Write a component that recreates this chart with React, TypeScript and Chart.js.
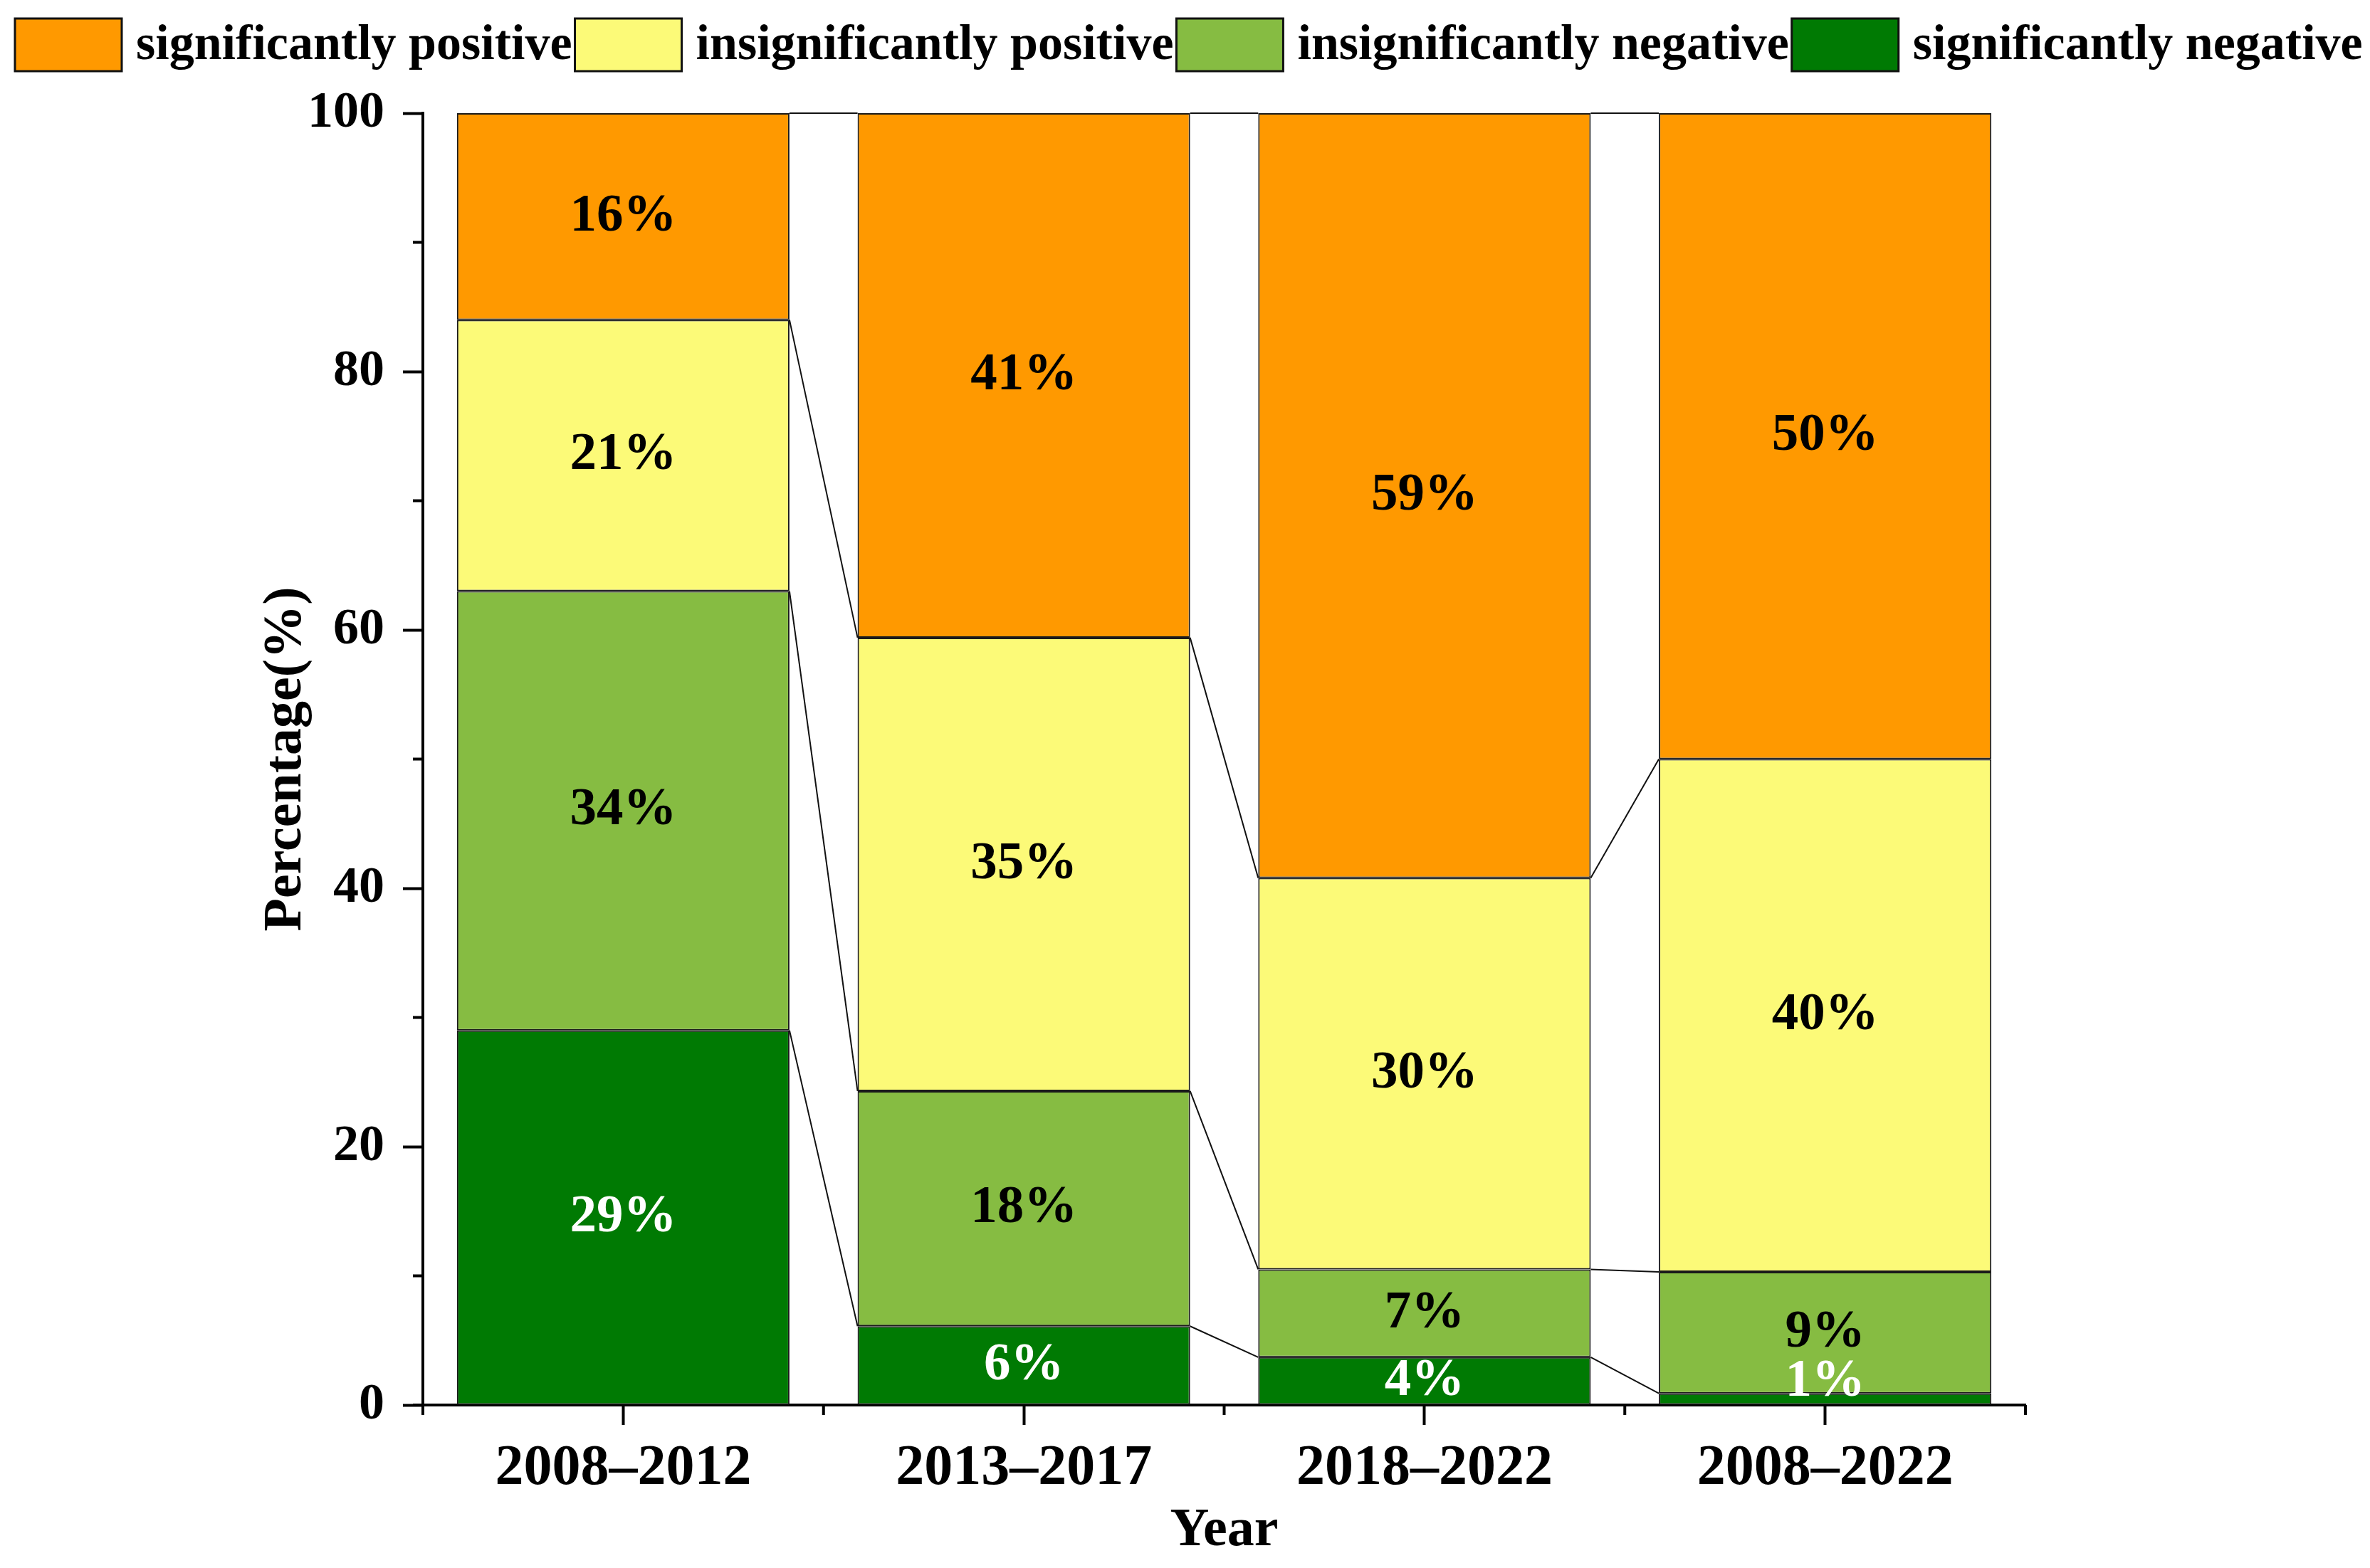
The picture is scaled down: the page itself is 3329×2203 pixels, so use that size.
import React, { useEffect, useRef } from 'react';
import { Chart, registerables } from 'chart.js';

Chart.register(...registerables);

// ---- data ----
const categories = ['2008–2012', '2013–2017', '2018–2022', '2008–2022'];
const seriesNames = [
  'significantly negative',
  'insignificantly negative',
  'insignificantly positive',
  'significantly positive',
];
const sigNegative = [29, 6.1, 3.7, 0.9];
const insigNegative = [34, 18.2, 6.8, 9.4];
const insigPositive = [21, 35.1, 30.3, 39.7];
const sigPositive = [16, 40.6, 59.2, 50];
const seriesColors = ['#007A03', '#86BC42', '#FCFA78', '#FF9900'];
const labelColors = ['#FFFFFF', '#000000', '#000000', '#000000'];
const yMajorTicks = [0, 20, 40, 60, 80, 100];
const yMinorTicks = [10, 30, 50, 70, 90];

const FONT = '"Liberation Serif", "Times New Roman", serif';

const connectorPlugin = {
  id: 'connectors',
  afterDatasetsDraw(chart: any) {
    const ctx = chart.ctx;
    ctx.save();
    ctx.strokeStyle = '#111';
    ctx.lineWidth = 2;
    chart.data.datasets.forEach((_: any, d: number) => {
      const els = chart.getDatasetMeta(d).data;
      for (let i = 0; i < els.length - 1; i++) {
        const a = els[i].getProps(['x', 'y', 'width'], true);
        const b = els[i + 1].getProps(['x', 'y', 'width'], true);
        ctx.beginPath();
        ctx.moveTo(a.x + a.width / 2, a.y);
        ctx.lineTo(b.x - b.width / 2, b.y);
        ctx.stroke();
      }
    });
    ctx.restore();
  },
};

const labelPlugin = {
  id: 'segLabels',
  afterDatasetsDraw(chart: any) {
    const ctx = chart.ctx;
    const size = 75;
    ctx.save();
    ctx.font = `bold ${size}px ${FONT}`;
    ctx.textAlign = 'center';
    ctx.textBaseline = 'middle';
    chart.data.datasets.forEach((ds: any, d: number) => {
      const els = chart.getDatasetMeta(d).data;
      els.forEach((el: any, i: number) => {
        const p = el.getProps(['x', 'y', 'base'], true);
        const center = (p.y + p.base) / 2;
        const y = Math.min(center, p.base - size * 0.43);
        ctx.fillStyle = labelColors[d];
        ctx.fillText(`${Math.round(ds.data[i])}%`, p.x, y);
      });
    });
    ctx.restore();
  },
};

const minorTickPlugin = {
  id: 'minorTicks',
  afterDraw(chart: any) {
    const ctx = chart.ctx;
    const xs = chart.scales.x;
    const ys = chart.scales.y;
    ctx.save();
    ctx.strokeStyle = '#000';
    ctx.lineWidth = 4;
    yMinorTicks.forEach((v) => {
      const py = ys.getPixelForValue(v);
      ctx.beginPath();
      ctx.moveTo(ys.right, py);
      ctx.lineTo(ys.right - 14, py);
      ctx.stroke();
    });
    for (let i = 0; i <= categories.length; i++) {
      const px = xs.getPixelForValue(i - 0.5);
      ctx.beginPath();
      ctx.moveTo(px, xs.top);
      ctx.lineTo(px, xs.top + 14);
      ctx.stroke();
    }
    // small overhang of x axis to the left of the y axis
    ctx.beginPath();
    ctx.moveTo(xs.left - 14, xs.top);
    ctx.lineTo(xs.left, xs.top);
    ctx.stroke();
    ctx.restore();
  },
};

const legendPlugin = {
  id: 'customLegend',
  afterDraw(chart: any) {
    const ctx = chart.ctx;
    ctx.save();
    ctx.font = `bold 70px ${FONT}`;
    ctx.textBaseline = 'middle';
    ctx.textAlign = 'left';
    const top = 26;
    const bw = 150;
    const bh = 74;
    let x = 21;
    const ds = chart.data.datasets;
    for (let k = ds.length - 1; k >= 0; k--) {
      ctx.fillStyle = ds[k].backgroundColor;
      ctx.fillRect(x, top, bw, bh);
      ctx.strokeStyle = '#111';
      ctx.lineWidth = 3;
      ctx.strokeRect(x, top, bw, bh);
      x += bw + 20;
      ctx.fillStyle = '#000';
      ctx.fillText(ds[k].label, x, top + bh / 2 + 2);
      x += ctx.measureText(ds[k].label).width + 4;
    }
    ctx.restore();
  },
};

const bgPlugin = {
  id: 'bg',
  beforeDraw(chart: any) {
    const ctx = chart.ctx;
    ctx.save();
    ctx.fillStyle = '#fff';
    ctx.fillRect(0, 0, chart.width, chart.height);
    ctx.restore();
  },
};

export default function App() {
  const ref = useRef<HTMLCanvasElement | null>(null);

  useEffect(() => {
    if (!ref.current) return;
    const values = [sigNegative, insigNegative, insigPositive, sigPositive];
    const chart = new Chart(ref.current, {
      type: 'bar',
      data: {
        labels: categories,
        datasets: values.map((v, d) => ({
          label: seriesNames[d],
          data: v,
          backgroundColor: seriesColors[d],
          borderColor: '#1a1a1a',
          borderWidth: 2,
          borderSkipped: false,
          barPercentage: 0.83,
          categoryPercentage: 1,
        })),
      },
      options: {
        animation: false,
        responsive: false,
        devicePixelRatio: 1,
        events: [],
        layout: { padding: { left: 0, right: 484, top: 159, bottom: 0 } },
        plugins: {
          legend: { display: false },
          tooltip: { enabled: false },
        },
        scales: {
          x: {
            stacked: true,
            offset: true,
            grid: {
              offset: false,
              drawOnChartArea: false,
              drawTicks: true,
              tickLength: 28,
              tickWidth: 4,
              tickColor: '#000',
              color: '#000',
            },
            border: { display: true, color: '#000', width: 4 },
            ticks: {
              color: '#000',
              padding: 14,
              font: { family: FONT, size: 80, weight: 'bold' },
              maxRotation: 0,
              autoSkip: false,
            },
            title: {
              display: true,
              text: 'Year',
              color: '#000',
              font: { family: FONT, size: 76, weight: 'bold' },
              padding: { top: 0, bottom: 6 },
            },
            afterFit(scale: any) {
              scale.height = 229;
            },
          },
          y: {
            stacked: true,
            min: 0,
            max: 100,
            afterBuildTicks(scale: any) {
              scale.ticks = yMajorTicks.map((v) => ({ value: v }));
            },
            grid: {
              drawOnChartArea: false,
              drawTicks: true,
              tickLength: 28,
              tickWidth: 4,
              tickColor: '#000',
              color: '#000',
            },
            border: { display: true, color: '#000', width: 4 },
            ticks: {
              color: '#000',
              padding: 26,
              font: { family: FONT, size: 72, weight: 'bold' },
            },
            title: {
              display: true,
              text: 'Percentage(%)',
              color: '#000',
              font: { family: FONT, size: 76, weight: 'bold' },
              padding: { top: 357, bottom: 0 },
            },
            afterFit(scale: any) {
              scale.width = 594;
            },
          },
        },
      } as any,
      plugins: [bgPlugin, connectorPlugin, labelPlugin, minorTickPlugin, legendPlugin],
    });
    return () => chart.destroy();
  }, []);

  return (
    <div style={{ position: 'fixed', left: 0, top: 0, width: 3329, height: 2203, background: '#fff' }}>
      <canvas ref={ref} width={3329} height={2203} style={{ width: 3329, height: 2203, display: 'block' }} />
    </div>
  );
}
